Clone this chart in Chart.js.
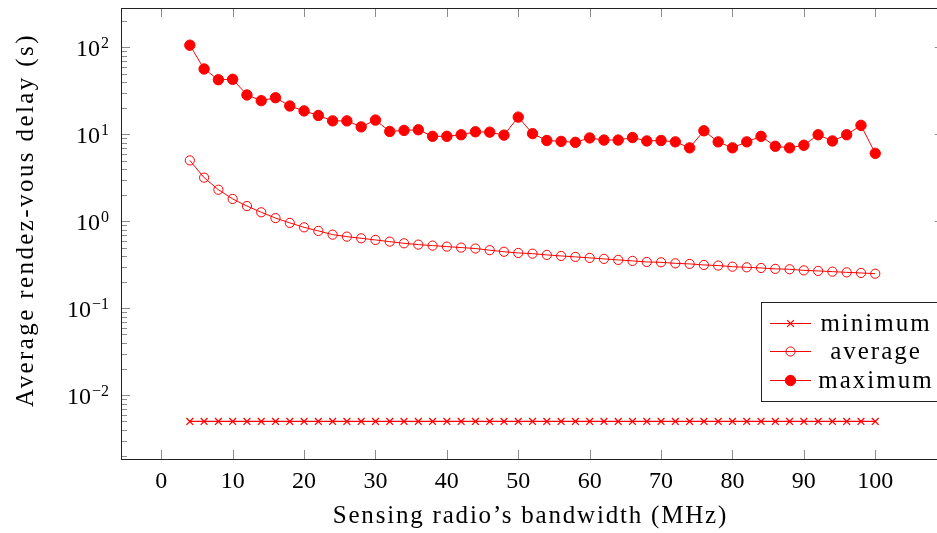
<!DOCTYPE html>
<html>
<head>
<meta charset="utf-8">
<script src="https://cdn.jsdelivr.net/npm/chart.js@4/dist/chart.umd.min.js"></script>
<style>
  html, body { margin: 0; padding: 0; background: #fff; overflow: hidden; }
  #wrap { position: relative; width: 950px; height: 533px; }
</style>
</head>
<body>
<div id="wrap"><canvas id="chart"></canvas></div>
<script>
// bandwidth (MHz) and delays (s)
const bandwidth = [4, 6, 8, 10, 12, 14, 16, 18, 20, 22, 24, 26, 28, 30, 32, 34, 36, 38, 40, 42, 44, 46, 48, 50,
                   52, 54, 56, 58, 60, 62, 64, 66, 68, 70, 72, 74, 76, 78, 80, 82, 84, 86, 88, 90, 92, 94, 96, 98, 100];

const minDelay = [0.005, 0.005, 0.005, 0.005, 0.005, 0.005, 0.005, 0.005, 0.005, 0.005, 0.005, 0.005,
                  0.005, 0.005, 0.005, 0.005, 0.005, 0.005, 0.005, 0.005, 0.005, 0.005, 0.005, 0.005,
                  0.005, 0.005, 0.005, 0.005, 0.005, 0.005, 0.005, 0.005, 0.005, 0.005, 0.005, 0.005,
                  0.005, 0.005, 0.005, 0.005, 0.005, 0.005, 0.005, 0.005, 0.005, 0.005, 0.005, 0.005, 0.005];

const avgDelay = [5.02, 3.18, 2.31, 1.81, 1.50, 1.27, 1.09, 0.96, 0.853, 0.776, 0.703, 0.667,
                  0.638, 0.611, 0.584, 0.559, 0.540, 0.526, 0.512, 0.499, 0.487, 0.466, 0.447, 0.433,
                  0.425, 0.411, 0.400, 0.390, 0.380, 0.370, 0.360, 0.351, 0.341, 0.338, 0.329, 0.324,
                  0.315, 0.310, 0.301, 0.296, 0.291, 0.284, 0.281, 0.273, 0.269, 0.264, 0.259, 0.255, 0.250];

const maxDelay = [106, 56.5, 42.5, 43, 28.4, 24.4, 26.4, 21.2, 18.6, 16.5, 14.3, 14.3,
                  12.2, 14.6, 10.8, 11.1, 11.3, 9.5, 9.5, 9.9, 10.7, 10.6, 9.8, 15.8,
                  10.2, 8.5, 8.3, 8.1, 9.1, 8.6, 8.6, 9.2, 8.4, 8.5, 8.2, 7.0,
                  11.0, 8.2, 7.0, 8.2, 9.5, 7.3, 7.0, 7.5, 9.9, 8.4, 9.9, 12.7, 6.05];

const seriesNames = ['minimum', 'average', 'maximum'];
const yTickValues = [0.01, 0.1, 1, 10, 100];
const yTickExps   = ['\u22122', '\u22121', '0', '1', '2'];
const xTitle = 'Sensing radio\u2019s bandwidth (MHz)';
const yTitle = 'Average rendez-vous delay (s)';

const FONT = '"Liberation Serif", "Times New Roman", serif';
const RED  = '#ff0000';

function pts(ys) { return bandwidth.map((b, i) => ({ x: b, y: ys[i] })); }

// pgfplots-like axis box, inward ticks, labels and legend
const pgfDeco = {
  id: 'pgfDeco',
  afterDatasetsDraw(chart) {
    const { ctx, chartArea: a, scales: { x, y } } = chart;
    ctx.save();
    ctx.strokeStyle = 'rgba(0,0,0,0.45)';
    ctx.lineWidth = 1;
    ctx.beginPath();
    x.ticks.forEach(t => {
      const px = Math.round(x.getPixelForValue(t.value)) + 0.5;
      ctx.moveTo(px, a.bottom); ctx.lineTo(px, a.bottom - 9);
      ctx.moveTo(px, a.top);    ctx.lineTo(px, a.top + 9);
    });
    for (let d = -3; d <= 2; d++) {
      for (let k = 1; k <= 9; k++) {
        const v = k * Math.pow(10, d);
        if (v < y.min || v > y.max) continue;
        const py = Math.round(y.getPixelForValue(v)) + 0.5;
        const len = k === 1 ? 9 : 6;
        ctx.moveTo(a.left, py);  ctx.lineTo(a.left + len, py);
        ctx.moveTo(a.right, py); ctx.lineTo(a.right - len, py);
      }
    }
    ctx.stroke();

    ctx.strokeStyle = '#222';
    ctx.strokeRect(a.left + 0.5, a.top + 0.5, a.right - a.left, a.bottom - a.top);
    ctx.restore();
  },
  afterDraw(chart) {
    const { ctx, chartArea: a, scales: { y } } = chart;
    const H = Chart.helpers;
    ctx.save();
    ctx.fillStyle = '#000';

    // y tick labels 10^n
    yTickValues.forEach((v, i) => {
      const py = y.getPixelForValue(v);
      ctx.font = '16px ' + FONT;
      const ew = ctx.measureText(yTickExps[i]).width;
      const right = 109;
      ctx.textAlign = 'left';
      ctx.textBaseline = 'alphabetic';
      ctx.fillText(yTickExps[i], right - ew, py + 1);
      ctx.font = '24px ' + FONT;
      ctx.textAlign = 'right';
      ctx.fillText('10', right - ew - 1, py + 9);
    });

    // axis titles
    ctx.font = '25px ' + FONT;
    ctx.textAlign = 'center';
    ctx.textBaseline = 'alphabetic';
    ctx.letterSpacing = '1.8px';
    ctx.fillText(xTitle, (a.left + a.right) / 2 - 2, 523);
    ctx.save();
    ctx.translate(33, 220);
    ctx.rotate(-Math.PI / 2);
    ctx.letterSpacing = '2.4px';
    ctx.fillText(yTitle, 0, 0);
    ctx.restore();

    // legend box
    const L = { left: 761, top: 302, right: 944, bottom: 401 };
    ctx.fillStyle = '#fff';
    ctx.fillRect(L.left, L.top, L.right - L.left, L.bottom - L.top);
    ctx.strokeStyle = '#222';
    ctx.lineWidth = 1;
    ctx.strokeRect(L.left + 0.5, L.top + 0.5, L.right - L.left, L.bottom - L.top);

    const rows = [323, 351, 380];
    chart.data.datasets.forEach((ds, i) => {
      const ry = rows[i];
      ctx.strokeStyle = ds.borderColor;
      ctx.lineWidth = ds.borderWidth;
      ctx.beginPath();
      ctx.moveTo(770, ry + 0.5); ctx.lineTo(811, ry + 0.5);
      ctx.stroke();
      ctx.fillStyle = ds.pointBackgroundColor;
      ctx.strokeStyle = ds.pointBorderColor;
      ctx.lineWidth = ds.pointBorderWidth;
      H.drawPoint(ctx, { pointStyle: ds.pointStyle, radius: ds.pointRadius,
                         borderWidth: ds.pointBorderWidth, rotation: 0 }, 790.5, ry + 0.5);
      ctx.fillStyle = '#000';
      ctx.font = '25px ' + FONT;
      ctx.textAlign = 'center';
      ctx.textBaseline = 'middle';
      ctx.letterSpacing = '2px';
      ctx.fillText(seriesNames[i], 876, ry + 1);
    });
    ctx.restore();
  }
};

new Chart(document.getElementById('chart').getContext('2d'), {
  type: 'line',
  data: {
    datasets: [
      {
        label: seriesNames[0],
        data: pts(minDelay),
        borderColor: RED,
        borderWidth: 1.2,
        pointStyle: 'crossRot',
        pointRadius: 4.8,
        pointBorderWidth: 1.3,
        pointBorderColor: RED,
        pointBackgroundColor: 'rgba(0,0,0,0)',
        fill: false,
        tension: 0
      },
      {
        label: seriesNames[1],
        data: pts(avgDelay),
        borderColor: RED,
        borderWidth: 1,
        pointStyle: 'circle',
        pointRadius: 4.6,
        pointBorderWidth: 1,
        pointBorderColor: RED,
        pointBackgroundColor: 'rgba(0,0,0,0)',
        fill: false,
        tension: 0
      },
      {
        label: seriesNames[2],
        data: pts(maxDelay),
        borderColor: RED,
        borderWidth: 1,
        pointStyle: 'circle',
        pointRadius: 5.2,
        pointBorderWidth: 1,
        pointBorderColor: RED,
        pointBackgroundColor: RED,
        fill: false,
        tension: 0
      }
    ]
  },
  options: {
    responsive: true,
    maintainAspectRatio: false,
    animation: false,
    layout: { padding: { top: 8, right: 2, left: 0, bottom: 0 } },
    plugins: {
      legend : { display: false },
      tooltip: { enabled: false }
    },
    scales: {
      x: {
        type: 'linear',
        min: -5.64,
        max: 109.6,
        afterFit: s => { s.height = 74; },
        border: { display: false },
        grid: { display: false, drawTicks: false },
        ticks: {
          stepSize: 10,
          includeBounds: false,
          autoSkip: false,
          maxRotation: 0,
          color: '#000',
          padding: 8,
          font: { family: FONT, size: 24 }
        }
      },
      y: {
        type: 'logarithmic',
        min: 0.00185,
        max: 283.8,
        afterFit: s => { s.width = 121; },
        border: { display: false },
        grid: { display: false },
        ticks: { display: false }
      }
    }
  },
  plugins: [pgfDeco]
});
</script>
</body>
</html>
